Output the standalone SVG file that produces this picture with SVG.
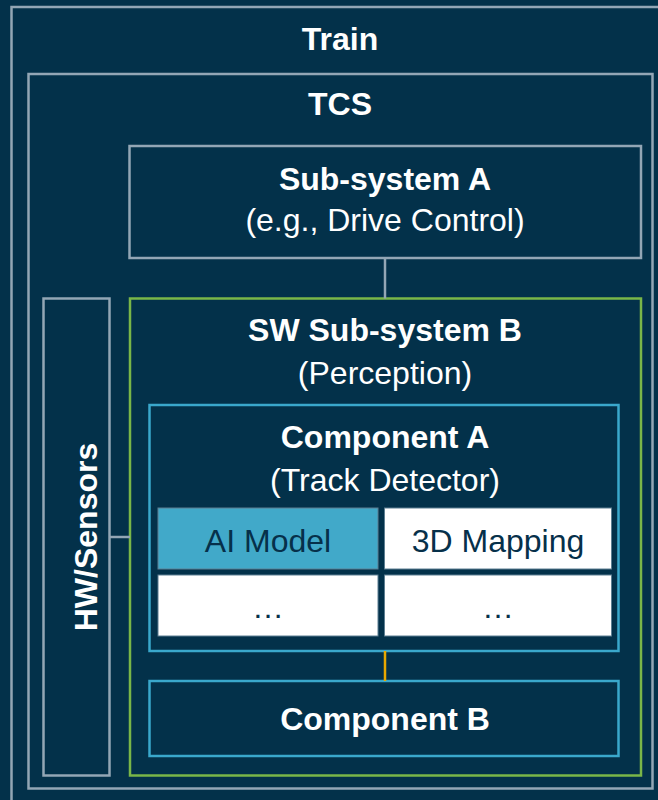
<svg xmlns="http://www.w3.org/2000/svg" width="658" height="800" viewBox="0 0 658 800">
  <style>
    .frame { fill: none; stroke: #93a6b5; stroke-width: 2.5; }
    .sw { fill: none; stroke: #7ab648; stroke-width: 2.5; }
    .comp { fill: none; stroke: #3aa8cc; stroke-width: 2.5; }
    .cell { fill: #ffffff; stroke: #5d7f92; stroke-width: 1; }
    .cell-ai { fill: #41a9c9; stroke: #5d7f92; stroke-width: 1; }
    .title { font-family: "Liberation Sans", Arial, sans-serif; font-weight: bold; font-size: 32px; fill: #ffffff; text-anchor: middle; }
    .sub { font-family: "Liberation Sans", Arial, sans-serif; font-size: 32px; fill: #ffffff; text-anchor: middle; }
    .cell-text { font-family: "Liberation Sans", Arial, sans-serif; font-size: 32px; fill: #06304a; text-anchor: middle; }
    .link { stroke: #93a6b5; stroke-width: 2.5; fill: none; }
    .link-ab { stroke: #e8a800; stroke-width: 2.5; fill: none; }
  </style>

  <rect width="658" height="800" fill="#03314a"/>

  <g id="train">
    <rect class="frame" x="11.5" y="7" width="700" height="850"/>
    <text class="title" x="340" y="50">Train</text>
  </g>

  <g id="tcs">
    <rect class="frame" x="28.5" y="74" width="624" height="714.5"/>
    <text class="title" x="340" y="115">TCS</text>
  </g>

  <g id="subsystem-a">
    <rect class="frame" x="129.5" y="146" width="511.5" height="112"/>
    <text class="title" x="385" y="190">Sub-system A</text>
    <text class="sub" x="385" y="231">(e.g., Drive Control)</text>
  </g>

  <g id="hw-sensors">
    <rect class="frame" x="43.5" y="298.5" width="66" height="477"/>
    <text class="title" transform="translate(97 537) rotate(-90)" x="0" y="0">HW/Sensors</text>
  </g>

  <g id="sw-subsystem-b">
    <rect class="sw" x="130" y="298.5" width="511" height="477"/>
    <text class="title" x="385" y="341">SW Sub-system B</text>
    <text class="sub" x="385" y="384">(Perception)</text>
  </g>

  <g id="component-a">
    <rect class="comp" x="149.5" y="405" width="469" height="246"/>
    <text class="title" x="385" y="448">Component A</text>
    <text class="sub" x="385" y="491">(Track Detector)</text>
  </g>

  <g id="ai-model">
    <rect class="cell-ai" x="158" y="508" width="220" height="61"/>
    <text class="cell-text" x="268" y="552">AI Model</text>
  </g>

  <g id="mapping-3d">
    <rect class="cell" x="384.5" y="508" width="227" height="61"/>
    <text class="cell-text" x="498" y="552">3D Mapping</text>
  </g>

  <g id="more-left">
    <rect class="cell" x="158" y="575" width="220" height="61"/>
    <text class="cell-text" x="268" y="618">…</text>
  </g>

  <g id="more-right">
    <rect class="cell" x="384.5" y="575" width="227" height="61"/>
    <text class="cell-text" x="498" y="618">…</text>
  </g>

  <g id="component-b">
    <rect class="comp" x="149.5" y="681" width="469" height="75"/>
    <text class="title" x="385" y="730">Component B</text>
  </g>

  <g id="connectors">
    <line class="link" x1="385" y1="258" x2="385" y2="298.5"/>
    <line class="link" x1="109.5" y1="537" x2="130" y2="537"/>
    <line class="link-ab" x1="385" y1="651" x2="385" y2="681"/>
  </g>
</svg>
